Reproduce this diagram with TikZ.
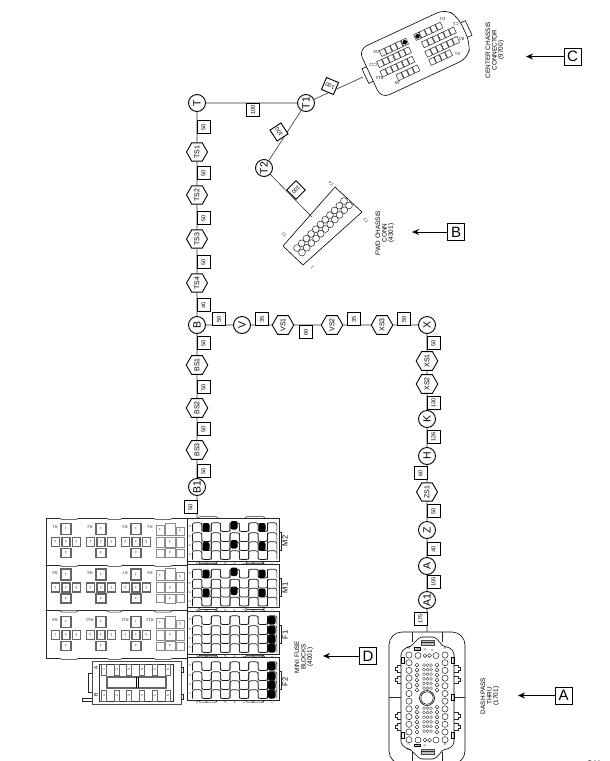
\documentclass[tikz,border=0pt]{standalone}
\usepackage{fontspec}
\setmainfont{Liberation Sans}
\usetikzlibrary{shapes.geometric,arrows.meta}
\newcommand{\fz}[1]{\fontsize{#1}{#1}\selectfont}
\tikzset{
  wire/.style={line width=.6pt,black!80},
  circn/.style={circle,draw,fill=white,line width=.9pt,minimum size=17pt,inner sep=0pt,rotate=90,font=\fz{10.5}},
  hexn/.style={regular polygon,regular polygon sides=6,shape border rotate=90,draw,fill=white,line width=.9pt,minimum size=21pt,inner sep=0pt,rotate=90,font=\fz{7}},
  wbox/.style={rectangle,draw,fill=white,line width=.9pt,minimum size=13pt,inner sep=0pt,rotate=90,font=\fz{5.6}},
  keybox/.style={rectangle,draw,fill=white,line width=.9pt,minimum size=17pt,inner sep=0pt,font=\fz{15}},
  keyarrow/.style={line width=1pt,-{Stealth[length=7pt,width=6pt]}},
  caption/.style={rotate=90,font=\fz{6.4},align=center,inner sep=0pt},
  thin line/.style={line width=.5pt,black!85},
  wave/.style={line width=.65pt,black!90},
  cell/.style={line width=1.1pt,black!60},
  lightcell/.style={line width=.7pt,black!45},
  tiny/.style={font=\fz{3.4},inner sep=0pt,text=black!80},
  cavity/.style={line width=.5pt,black!85},
}
\newcommand{\relaycross}[3]{% x, y, label
  \foreach \dx/\dy/\w/\h/\t in {0/-13/10/11/1,-10.5/0/8/9/2,0/0/8/9/3,10.5/0/8/9/5,0/11/10/9/4}{
    \draw[cell] (#1+\dx-\w/2,#2+\dy-\h/2) rectangle (#1+\dx+\w/2,#2+\dy+\h/2);
    \node[tiny,rotate=180] at (#1+\dx,#2+\dy) {\t};
  }
  \node[tiny,rotate=180,font=\fz{4}] at (#1-11,#2-15) {#3};
}
\newcommand{\relayfour}[3]{% x, y, label
  \foreach \dx/\dy/\w/\h/\t in {-10/-12/8/10/1,0/-13/10/12/,10/-11/8/8/5,-10/0/8/10/,0/0/10/10/3,10/0/8/10/,-10/11/8/8/,0/11/10/9/4,10/11/8/8/}{
    \draw[lightcell] (#1+\dx-\w/2,#2+\dy-\h/2) rectangle (#1+\dx+\w/2,#2+\dy+\h/2);
    \node[tiny,rotate=180] at (#1+\dx,#2+\dy) {\t};
  }
  \node[tiny,rotate=180,font=\fz{4}] at (#1-20,#2-15) {#3};
}
\newcommand{\fuseblock}[2]{% offset, black cells
  \begin{scope}[yshift=-#1pt]
    \draw[thin line] (187,518) rectangle (279,561);
    \draw[thin line] (279,532) -- (281,532) -- (281,550) -- (279,550);
    \foreach \xa/\xb in {198/218,245/265}{
      \draw[thin line] (\xa,518) -- (\xa+2,516.5) -- (\xb-2,516.5) -- (\xb,518);
      \draw[thin line] (\xa,561) -- (\xa+2,563) -- (\xb-2,563) -- (\xb,561);
    }
    \foreach \ry/\rn in {527/4,537/3,546/2,555/1}{
      \node[tiny] at (190,\ry) {\rotatebox{90}{\rn}};
      \foreach \c/\oddc in {0/1,1/0,2/1,3/0,4/1,5/0,6/1,7/0,8/1}{
        \pgfmathsetmacro{\xl}{192.5+9.37*\c}
        \pgfmathsetmacro{\xr}{\xl+9.37}
        \ifnum\oddc=1
          \draw[wave,rounded corners=2pt] (\xl,\ry+4.5) -- (\xl,\ry-4.2) -- (\xr,\ry-4.2) -- (\xr,\ry+4.5);
        \else
          \draw[wave,rounded corners=2pt] (\xl,\ry-4.2) -- (\xl,\ry+4.5) -- (\xr,\ry+4.5) -- (\xr,\ry-4.2);
        \fi
      }
    }
    \foreach \c/\t in {0/a,1/b,2/c,3/d,4/e,5/f,6/g,7/h,8/j}{
      \node[tiny] at (197+9.37*\c,564) {\rotatebox{90}{\t}};
    }
    #2
  \end{scope}
}
\newcommand{\blackM}{%
  \foreach \ry in {527,546}{
    \fill[rounded corners=2pt] (202.5,\ry-4) rectangle (209.5,\ry+4.5);
    \fill[rounded corners=2pt] (230.5,\ry-6) rectangle (237.5,\ry+2.5);
    \fill[rounded corners=2pt] (258.5,\ry-4) rectangle (265.5,\ry+4.5);
  }
}
\newcommand{\blackF}{%
  \foreach \ry in {527,537,546,555}{
    \fill[rounded corners=2pt] (268,\ry-4) rectangle (275.5,\ry+4.5);
  }
}
\newcommand{\sqrow}[3]{% centre x, y, count
  \pgfmathsetmacro{\startx}{#1-3*(#3-1)}
  \foreach \k in {1,...,#3}{
    \draw[cavity] (\startx+6*\k-6-2.7,#2-3.2) rectangle (\startx+6*\k-6+2.7,#2+3.2);
  }
}
\begin{document}
\begin{tikzpicture}[x=1pt,y=-1pt]
\clip (0,0) rectangle (610,761);
\fill[white] (0,0) rectangle (610,761);

% ---- trunk nodes
\node[circn] (T) at (197,103) {T};
\node[circn] (T1) at (306,103) {T1};
\node[circn] (T2) at (264,168) {T2};
\node[hexn] (TS1) at (197,152) {TS1};
\node[hexn] (TS2) at (197,195) {TS2};
\node[hexn] (TS3) at (197,239) {TS3};
\node[hexn] (TS4) at (197,283) {TS4};
\node[circn] (B) at (197,325) {B};
\node[hexn] (BS1) at (197,365) {BS1};
\node[hexn] (BS2) at (197,408) {BS2};
\node[hexn] (BS3) at (197,450) {BS3};
\node[circn] (B1) at (197,487) {B1};
\node[circn] (V) at (242,325) {V};
\node[hexn] (VS1) at (283,325) {VS1};
\node[hexn] (VS2) at (332,325) {VS2};
\node[hexn] (XS3) at (382,325) {XS3};
\node[circn] (X) at (427,325) {X};
\node[hexn] (XS1) at (427,361) {XS1};
\node[hexn] (XS2) at (427,384) {XS2};
\node[circn] (K) at (427,419) {K};
\node[circn] (H) at (427,456) {H};
\node[hexn] (ZS1) at (427,492) {ZS1};
\node[circn] (Z) at (427,530) {Z};
\node[circn] (A) at (427,566) {A};
\node[circn] (A1) at (427,600) {A1};

\coordinate (fuseTop) at (197,518);
\coordinate (dashTop) at (427,632);
\coordinate (centerTab) at (363,77);
\coordinate (fwdEdge) at (312,217);

% ---- wires
\draw[wire] (T) -- (TS1) (TS1) -- (TS2) (TS2) -- (TS3) (TS3) -- (TS4) (TS4) -- (B)
  (B) -- (BS1) (BS1) -- (BS2) (BS2) -- (BS3) (BS3) -- (B1) (B1) -- (fuseTop);
\draw[wire] (B) -- (V) (V) -- (VS1) (VS1) -- (VS2) (VS2) -- (XS3) (XS3) -- (X);
\draw[wire] (X) -- (XS1) (XS1) -- (XS2) (XS2) -- (K) (K) -- (H) (H) -- (ZS1)
  (ZS1) -- (Z) (Z) -- (A) (A) -- (A1) (A1) -- (dashTop);
\draw[wire] (T) -- (T1) (T1) -- (T2) (T1) -- (centerTab) (T2) -- (fwdEdge);

% ---- wire length boxes
\foreach \nm/\x/\y/\t in {
  b1/203.5/127/50,b2/203.5/173/50,b3/203.5/218/50,b4/203.5/262/50,b5/203.5/305/40,
  b6/203.5/343/50,b7/203.5/387/50,b8/203.5/429/50,b9/203.5/471/50,b10/190.5/507/50,
  h1/219/319/50,h2/262/319/35,h3/306/332/60,h4/354/319/35,h5/404/319/50,
  r1/433.5/343/50,r2/433.5/403/130,r3/433.5/437/126,r4/420.5/473/60,r5/433.5/511/50,
  r6/433.5/549/40,r7/433.5/582/105,r8/420.5/619/175,
  t1/253/110/100}{
  \node[wbox] (\nm) at (\x,\y) {\t};
}
\node[wbox,rotate=-23] (d1) at (330,86) {\rotatebox{90}{100}};
\node[wbox,rotate=-57] (d2) at (279,132) {\rotatebox{90}{100}};
\node[wbox,rotate=45] (d3) at (296,190) {\rotatebox{90}{100}};

% ---- FWD chassis connector
\draw[line width=.6pt] (283,246) -- (335,187) -- (362,212) -- (303,265) -- cycle;
\foreach \i in {0,...,10}{
  \draw[cavity] (297+4.7*\i,248-4.7*\i) circle[radius=3.4];
  \draw[cavity] (302+4.7*\i,252.5-4.7*\i) circle[radius=3.4];
}
\node[tiny,rotate=135,font=\fz{4}] at (284,235) {Z2};
\node[tiny,rotate=135,font=\fz{4}] at (331,184) {Z4};
\node[tiny,rotate=135,font=\fz{4}] at (366,221) {Z3};
\node[tiny,rotate=135,font=\fz{4}] at (312,268) {1};

% ---- center chassis connector
\begin{scope}[shift={(417,52)},rotate=25]
  \draw[line width=.6pt,rounded corners=9pt] (-52,-27) -- (44,-27) -- (52,-14) -- (52,14) -- (44,27) -- (-52,27) -- cycle;
  \draw[line width=.6pt] (-52,-8) -- (-57,-8) -- (-57,8) -- (-52,8);
  \draw[line width=.6pt] (52,-8) -- (57,-8) -- (57,8) -- (52,8);
  \sqrow{-19}{-14}{5}
  \sqrow{-23}{-5}{6}
  \sqrow{-24}{5}{6}
  \sqrow{-17}{15}{4}
  \sqrow{19}{-14}{5}
  \sqrow{26}{-4}{6}
  \sqrow{25}{6}{6}
  \sqrow{19}{15}{4}
  \fill (-7,-14) circle[radius=2.3];
  \fill (7,-14) circle[radius=2.3];
  \foreach \x/\y/\t in {-37/-17/D8,-45/-7/C12,-45/8/B12,-31/20/A8,37/-19/D1,47/-9/C1,46/7/B1,36/19/A1}{
    \node[tiny,rotate=180,font=\fz{4.3}] at (\x,\y) {\t};
  }
\end{scope}

% ---- dash pass connector
\draw[line width=.6pt] (389,645) arc[start angle=180,end angle=270,radius=13] -- (452,632) arc[start angle=-90,end angle=0,radius=13] -- (465,751) arc[start angle=0,end angle=90,radius=13] -- (402,764) arc[start angle=90,end angle=180,radius=13] -- cycle;
\draw[line width=.6pt,rounded corners=2pt] (401,652) -- (407,647) -- (410,647) -- (420,637) -- (435,637) -- (444,647) -- (449,647) -- (454,652) -- (454,744) -- (449,749) -- (444,749) -- (435,759) -- (420,759) -- (410,749) -- (407,749) -- (401,744) -- cycle;
\draw[thin line] (412,632) -- (412,642) (442,632) -- (442,642) (412,752) -- (412,764) (442,752) -- (442,764);
\draw[thin line] (389,697) -- (401,697) (454,697) -- (465,697);
\foreach \y in {640,749}{
  \draw[line width=.8pt,black!70,fill=black!25] (421,\y) rectangle (434,\y+5);
  \draw[thin line] (421,\y+2.5) -- (434,\y+2.5);
}
\draw[line width=.5pt,fill=black!15] (414,647.5) rectangle (420,650);
\draw[line width=.5pt,fill=black!15] (414,744) rectangle (420,746.5);
\draw[line width=.6pt] (427,698) circle[radius=7.5];
\draw[line width=.5pt] (427,698) circle[radius=6.2];
\foreach \i in {0,...,11}{
  \draw[cavity] (409,655+7.7*\i) circle[radius=3.1];
  \draw[cavity] (445,655+7.7*\i) circle[radius=3.1];
}
\foreach \x/\r in {418/3,425/1.9,429.5/1.9,436/3}{
  \draw[cavity] (\x,655.5) circle[radius=\r];
  \draw[cavity] (\x,740) circle[radius=\r];
}
\foreach \i in {0,...,5}{
  \draw[cavity] (417,665+5*\i) circle[radius=1.9];
  \draw[cavity] (437,665+5*\i) circle[radius=1.9];
  \draw[cavity] (417,707+5*\i) circle[radius=1.9];
  \draw[cavity] (437,707+5*\i) circle[radius=1.9];
}
\foreach \i in {0,...,5}{
  \foreach \x in {424,427.5,431}{
    \draw[line width=.35pt,black!75] (\x,665+4.6*\i) circle[radius=1.5];
    \draw[line width=.35pt,black!75] (\x,708+4.6*\i) circle[radius=1.5];
  }
}
\foreach \x/\y in {401/657,401/732,451/657,451/732,451/694}{
  \draw[line width=.55pt] (\x,\y) rectangle (\x+3,\y+6);
}
\foreach \y in {665,676,712,723}{
  \draw[thin line] (401,\y) -- (397,\y) -- (397,\y+2) -- (395,\y+2) -- (395,\y+5) -- (397,\y+5) -- (397,\y+7) -- (401,\y+7);
  \draw[thin line] (454,\y) -- (458,\y) -- (458,\y+2) -- (460,\y+2) -- (460,\y+5) -- (458,\y+5) -- (458,\y+7) -- (454,\y+7);
}
\foreach \x/\y/\t in {409/649/1,445/649/3,418/650/5,425/650/6,432/650/A,409/745/7,445/745/9,418/746/5,425/746/6}{
  \node[tiny,rotate=90] at (\x,\y) {\t};
}

% ---- relay blocks
\draw[thin line] (46,518) rectangle (187,658);
\draw[thin line] (46,565) -- (187,565) (46,610.5) -- (187,610.5);
\foreach \yy in {518,565,610.5,658}{
  \foreach \xa/\xb in {59/79,106/123,153/173}{
    \draw[thin line,fill=white] (\xa,\yy) -- (\xa+3,\yy+1.5) -- (\xb-3,\yy+1.5) -- (\xb,\yy);
  }
}
\relaycross{66}{542}{R1}
\relaycross{101}{542}{R2}
\relaycross{136}{542}{R3}
\relayfour{170}{542}{R4}
\relaycross{66}{587.5}{R5}
\relaycross{101}{587.5}{R6}
\relaycross{136}{587.5}{R7}
\relayfour{170}{587.5}{R8}
\relaycross{66}{635}{R9}
\relaycross{101}{635}{R10}
\relaycross{136}{635}{R11}
\relayfour{170}{635}{R12}

% ---- mini fuse blocks
\fuseblock{0}{\blackM}
\fuseblock{46.5}{\blackM}
\fuseblock{93}{\blackF}
\fuseblock{139}{\blackF}
\foreach \t/\y in {M2/541,M1/588,F1/635,F2/682}{
  \node[rotate=90,font=\fz{7.5},inner sep=0pt] (lab\t) at (285,\y) {\t};
}

% ---- lower relay box
\draw[line width=.6pt,black!70] (92,661) rectangle (181,704);
\draw[line width=.7pt,black!80] (99,664) rectangle (173,701);
\draw[cell] (107,677) rectangle (166,688);
\draw[line width=.6pt] (136.5,677) -- (136.5,688) (138.5,677) -- (138.5,688);
\draw[thin line] (92,673) -- (88,673) -- (88,692) -- (92,692);
\draw[thin line] (92,698) -- (82,698) -- (82,701) -- (92,701);
\draw[thin line] (181,667) -- (183,667) -- (183,672) -- (181,672);
\draw[thin line] (181,694) -- (183,694) -- (183,699) -- (181,699);
\foreach \x/\t in {104/1,117/2,129/3,142/4,155/5,168/6}{
  \draw[line width=.9pt,black!60] (\x-2.8,664) rectangle (\x+2.8,675);
  \draw[line width=.9pt,black!60] (\x-2.8,690) rectangle (\x+2.8,701);
  \node[tiny] at (\x,669.5) {\rotatebox{90}{\t}};
  \node[tiny] at (\x,695.5) {\rotatebox{90}{\t}};
}
\node[rotate=90,font=\fz{5},inner sep=0pt] (labA) at (96,668) {A};
\node[rotate=90,font=\fz{5},inner sep=0pt] (labB) at (96,695) {B};

% ---- key boxes
\node[keybox] (keyA) at (563.5,695.5) {A};
\node[keybox] (keyB) at (456,232) {B};
\node[keybox] (keyC) at (572.5,56.5) {C};
\node[keybox] (keyD) at (368,656) {D};
\coordinate (tipA) at (518,695.5);
\coordinate (tipB) at (412,232);
\coordinate (tipC) at (526,56.5);
\coordinate (tipD) at (323,656);
\draw[keyarrow] (keyA) -- (tipA);
\draw[keyarrow] (keyB) -- (tipB);
\draw[keyarrow] (keyC) -- (tipC);
\draw[keyarrow] (keyD) -- (tipD);

\node[caption] (capA) at (490,696) {DASH PASS\\THRU\\(1701)};
\node[caption] (capB) at (385,233) {FWD CHASSIS\\CONN\\(4301)};
\node[caption] (capC) at (495,50) {CENTER CHASSIS\\CONNECTOR\\(9700)};
\node[caption] (capD) at (304,657) {MINI FUSE\\BLOCKS\\(4001)};
\node[font=\fz{8},inner sep=0pt] (sheet) at (594,764) {G11};
\end{tikzpicture}
\end{document}
